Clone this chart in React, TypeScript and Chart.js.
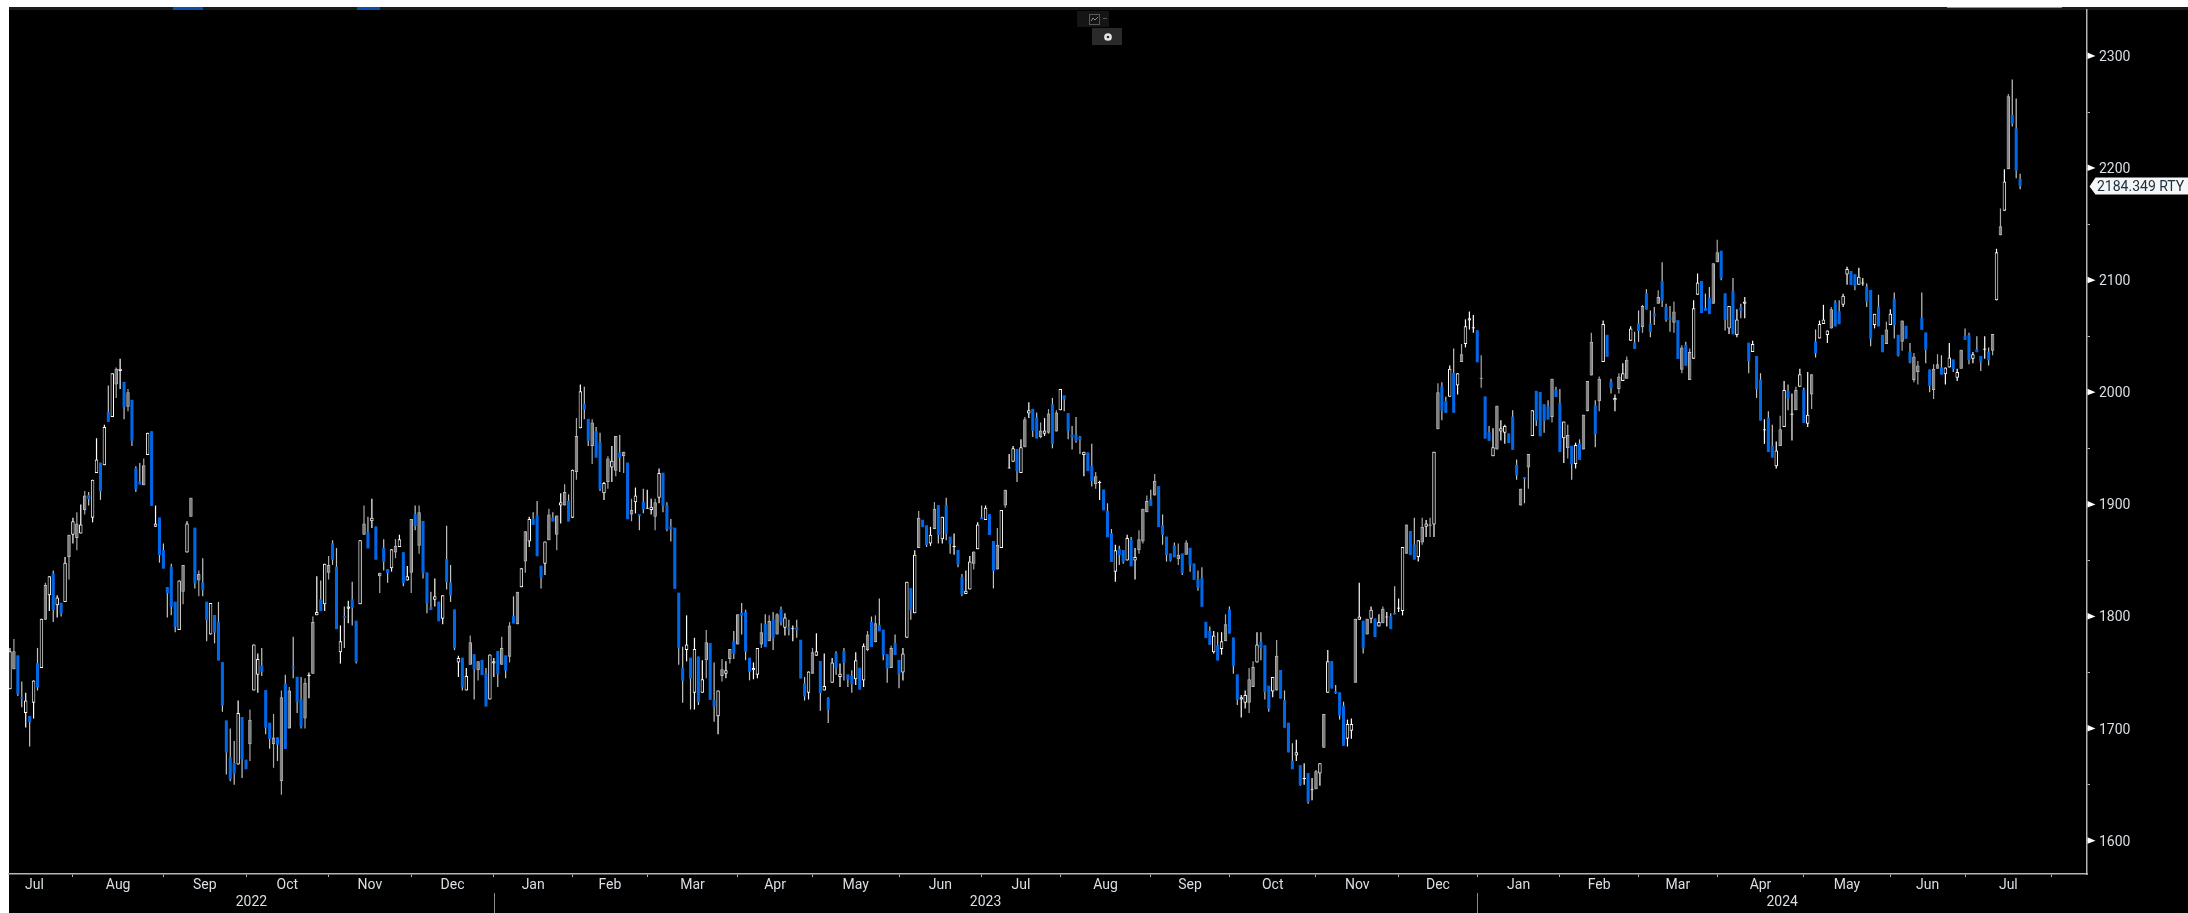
import React, { useEffect, useRef } from "react";
import { Chart, registerables } from "chart.js";

Chart.register(...registerables);

// Russell 2000 daily candles: [open, high, low, close]
const candles2022: number[][] = [
[1735,1772,1735,1769],[1753,1780,1753,1769],[1765,1765,1729,1731],[1728,1742,1719,1727],[1714,1732,1701,1725],[1711,1711,1684,1706],[1723,1743,1709,1743],[1758,1772,1734,1737],[1754,1798,1754,1798],[1797,1830,1797,1828],
[1819,1836,1805,1836],[1838,1841,1795,1806],[1810,1819,1799,1817],[1812,1812,1800,1803],[1813,1853,1813,1848],[1853,1873,1833,1873],[1873,1888,1865,1885],[1870,1893,1859,1883],[1874,1900,1874,1882],[1895,1912,1891,1908],
[1908,1911,1899,1905],[1888,1922,1884,1922],[1928,1959,1928,1940],[1937,1937,1904,1912],[1935,1971,1935,1969],[1982,2006,1974,1974],[1978,2017,1978,2017],[2007,2022,1995,2021],[2019,2030,2003,2021],[2009,2009,1976,1987],
[1987,2003,1983,2000],[1993,1993,1952,1957],[1932,1934,1911,1914],[1920,1937,1918,1918],[1917,1941,1917,1935],[1944,1964,1944,1964],[1965,1965,1899,1899],[1880,1899,1880,1883],[1888,1888,1848,1855],[1859,1865,1843,1843],
[1826,1826,1799,1821],[1844,1847,1801,1809],[1813,1813,1786,1791],[1788,1832,1788,1832],[1822,1846,1811,1846],[1857,1885,1857,1883],[1889,1906,1889,1906],[1879,1879,1825,1830],[1832,1841,1818,1838],[1830,1852,1818,1824],
[1813,1813,1778,1797],[1784,1812,1784,1812],[1801,1801,1776,1786],[1795,1813,1761,1761],[1759,1759,1715,1721],[1707,1707,1659,1679],[1674,1700,1653,1655],[1669,1689,1650,1660],[1668,1725,1668,1714],[1710,1710,1656,1673],
[1672,1672,1664,1664],[1686,1717,1671,1708],[1734,1775,1734,1775],[1748,1767,1732,1762],[1756,1772,1747,1751],[1734,1734,1695,1701],[1705,1705,1682,1691],[1686,1713,1665,1692],[1692,1692,1671,1686],[1653,1734,1641,1728],
[1740,1748,1682,1682],[1700,1737,1700,1734],[1755,1782,1745,1754],[1746,1746,1714,1724],[1726,1746,1700,1702],[1709,1745,1700,1741],[1747,1750,1727,1748],[1749,1800,1749,1795],[1801,1836,1801,1804],[1815,1832,1805,1805],
[1811,1847,1805,1847],[1839,1854,1833,1846],[1865,1868,1846,1851],[1844,1861,1789,1789],[1768,1792,1758,1778],[1800,1809,1772,1799],[1807,1814,1794,1809],[1815,1831,1792,1808],[1796,1796,1758,1760],[1811,1868,1811,1868],
[1873,1899,1873,1883],[1875,1889,1861,1861],[1885,1905,1879,1888],[1880,1880,1851,1851],[1836,1839,1821,1839],[1861,1869,1841,1849],[1842,1842,1830,1839],[1843,1860,1840,1860],[1857,1869,1852,1863],[1862,1873,1862,1869],
[1857,1857,1827,1830],[1832,1845,1832,1836],[1839,1887,1821,1887],[1891,1899,1877,1881],[1863,1899,1856,1893],[1885,1885,1834,1839],[1839,1839,1803,1812],[1808,1822,1806,1806],[1815,1834,1809,1818],[1813,1813,1796,1796],
[1798,1819,1793,1819],[1851,1881,1824,1831],[1830,1846,1813,1819],[1806,1806,1770,1772],[1759,1765,1746,1763],[1763,1763,1734,1737],[1734,1754,1734,1747],[1757,1783,1757,1777],[1766,1766,1726,1753],[1752,1760,1743,1760],
[1761,1761,1748,1748],[1749,1754,1720,1720],[1726,1766,1726,1766],
];
const candles2023: number[][] = [
[1758,1763,1746,1760],[1769,1769,1737,1749],[1757,1782,1757,1772],[1765,1765,1745,1752],[1764,1795,1759,1792],[1800,1818,1794,1794],[1793,1822,1793,1822],[1826,1843,1826,1843],[1849,1876,1839,1876],[1867,1889,1862,1887],
[1887,1893,1882,1882],[1890,1903,1854,1854],[1845,1845,1825,1835],[1847,1867,1837,1867],[1868,1896,1868,1891],[1888,1893,1885,1885],[1873,1890,1859,1890],[1899,1910,1883,1902],[1899,1918,1899,1911],[1903,1909,1885,1885],
[1888,1931,1888,1931],[1929,1977,1922,1961],[1968,2007,1968,2001],[1989,2005,1976,1985],[1976,1976,1952,1957],[1952,1976,1936,1973],[1965,1969,1942,1942],[1955,1964,1912,1914],[1910,1920,1904,1919],[1920,1943,1914,1941],
[1933,1952,1920,1939],[1930,1961,1925,1961],[1946,1962,1929,1942],[1943,1947,1928,1947],[1937,1937,1887,1887],[1891,1905,1885,1895],[1902,1915,1892,1908],[1891,1891,1877,1890],[1902,1914,1892,1896],[1896,1913,1896,1897],
[1895,1905,1891,1898],[1889,1905,1877,1902],[1906,1932,1901,1928],[1928,1928,1893,1899],[1899,1902,1876,1878],[1880,1887,1867,1878],[1879,1879,1825,1825],[1821,1821,1757,1772],[1754,1773,1723,1743],[1770,1801,1760,1775],
[1763,1763,1717,1745],[1732,1781,1717,1771],[1764,1764,1721,1724],[1732,1761,1732,1744],[1761,1788,1745,1777],[1776,1776,1726,1726],[1725,1759,1706,1720],[1711,1734,1695,1734],[1747,1762,1742,1753],[1749,1760,1745,1752],
[1762,1771,1758,1771],[1778,1787,1762,1767],[1775,1802,1775,1802],[1803,1812,1784,1801],[1804,1806,1761,1769],[1763,1763,1743,1751],[1752,1759,1744,1754],[1748,1772,1745,1772],[1775,1794,1772,1786],[1793,1802,1773,1773],
[1778,1801,1778,1796],[1797,1804,1770,1781],[1784,1803,1784,1802],[1806,1809,1792,1795],[1790,1803,1783,1799],[1790,1797,1783,1789],[1789,1792,1778,1790],[1790,1797,1781,1788],[1779,1779,1745,1745],[1740,1746,1725,1729],
[1732,1751,1726,1751],[1749,1772,1749,1768],[1765,1785,1765,1769],[1760,1760,1716,1732],[1734,1767,1734,1738],[1727,1728,1705,1717],[1741,1763,1741,1759],[1767,1769,1748,1754],[1746,1758,1737,1749],[1769,1772,1743,1759],
[1748,1748,1737,1744],[1747,1752,1732,1740],[1744,1768,1739,1761],[1754,1754,1735,1735],[1743,1776,1737,1774],[1770,1787,1769,1784],[1795,1800,1773,1773],[1777,1801,1777,1794],[1792,1816,1787,1787],[1788,1788,1761,1766],
[1766,1766,1741,1754],[1754,1774,1754,1772],[1776,1784,1766,1766],[1761,1761,1736,1749],[1750,1772,1743,1767],[1781,1831,1781,1831],[1825,1825,1797,1806],[1803,1859,1803,1855],[1861,1894,1861,1888],[1886,1886,1880,1880],
[1881,1881,1862,1864],[1865,1880,1863,1873],[1878,1902,1878,1896],[1899,1899,1865,1873],[1869,1889,1865,1889],[1899,1906,1868,1874],[1871,1871,1856,1865],[1862,1874,1855,1863],[1859,1859,1844,1847],[1835,1838,1818,1820],
[1820,1841,1820,1823],[1824,1854,1824,1849],[1847,1858,1842,1858],[1860,1884,1860,1882],[1888,1899,1887,1887],[1886,1899,1886,1897],[1891,1891,1873,1873],[1867,1867,1825,1841],[1842,1879,1842,1864],[1861,1895,1861,1895],
[1899,1913,1897,1913],[1932,1945,1932,1933],[1938,1952,1938,1950],[1949,1949,1920,1930],[1928,1958,1928,1951],[1951,1978,1951,1976],[1981,1991,1977,1984],[1985,1985,1960,1966],[1977,1982,1959,1959],[1960,1973,1959,1966],
[1963,1977,1961,1966],[1964,1985,1963,1981],[1989,1995,1950,1954],[1965,1984,1965,1982],[1984,2003,1984,2003],[1997,1997,1983,1994],[1981,1981,1958,1966],[1962,1970,1949,1960],[1962,1978,1955,1957],[1960,1961,1945,1958],
[1944,1947,1925,1947],[1946,1946,1930,1930],[1934,1954,1916,1921],[1918,1929,1914,1925],[1919,1921,1904,1920],[1913,1913,1895,1895],[1894,1901,1871,1871],[1874,1878,1849,1849],[1840,1864,1831,1859],[1860,1863,1846,1855],
[1859,1859,1847,1849],[1850,1873,1850,1870],[1868,1871,1845,1845],[1850,1861,1833,1853],[1859,1877,1856,1869],[1867,1896,1865,1896],[1893,1908,1893,1903],[1904,1913,1899,1899],[1908,1927,1908,1921],[1916,1916,1880,1880],
[1881,1891,1864,1873],[1871,1871,1849,1855],[1856,1856,1849,1850],[1863,1866,1853,1853],[1851,1865,1846,1855],[1856,1856,1837,1839],[1855,1868,1855,1866],[1861,1861,1840,1846],[1847,1847,1833,1833],[1833,1841,1823,1826],
[1834,1844,1809,1809],[1795,1795,1781,1781],[1787,1791,1775,1775],[1768,1787,1767,1783],[1774,1786,1761,1761],[1771,1786,1766,1778],[1778,1802,1778,1793],[1806,1809,1785,1785],[1781,1781,1749,1756],[1748,1748,1721,1726],
[1726,1730,1710,1728],[1723,1734,1718,1730],[1723,1754,1714,1744],[1737,1760,1737,1755],[1759,1786,1759,1775],[1777,1786,1761,1772],[1774,1774,1726,1733],[1738,1738,1715,1718],[1733,1746,1728,1746],[1734,1779,1734,1765],
[1752,1752,1727,1727],[1725,1734,1701,1701],[1705,1705,1679,1679],[1671,1687,1664,1664],[1676,1690,1671,1679],[1667,1667,1649,1650],[1655,1669,1650,1656],[1660,1660,1633,1635],[1645,1656,1636,1646],[1646,1663,1646,1662],
[1660,1669,1649,1669],[1683,1713,1683,1713],[1732,1770,1732,1760],[1760,1760,1736,1736],[1733,1739,1731,1732],[1732,1732,1708,1712],[1720,1724,1685,1685],[1691,1708,1684,1704],[1698,1709,1691,1704],[1741,1798,1741,1798],
[1797,1830,1797,1800],[1796,1796,1767,1772],[1784,1798,1784,1798],[1798,1809,1794,1806],[1798,1798,1782,1782],[1791,1802,1791,1795],[1794,1809,1794,1807],[1799,1804,1791,1800],[1800,1803,1789,1789],[1803,1827,1802,1802],
[1807,1816,1804,1808],[1805,1862,1801,1862],[1856,1882,1856,1882],[1876,1876,1855,1855],[1864,1888,1851,1851],[1853,1868,1849,1868],[1866,1888,1864,1880],[1880,1886,1871,1883],[1881,1888,1871,1882],[1882,1947,1871,1947],
];
const candles2024: number[][] = [
[1967,2008,1967,2000],[2005,2009,1975,1984],[1992,1996,1982,1982],[1996,2024,1996,2021],[2017,2039,1982,1982],[2006,2017,1998,2017],[2027,2043,2027,2034],[2043,2065,2040,2059],[2064,2072,2056,2066],[2057,2069,2053,2058],
[2055,2055,2027,2027],[2012,2033,2004,2013],[1996,1996,1959,1959],[1964,1970,1957,1957],[1943,1968,1943,1951],[1949,1988,1949,1988],[1965,1975,1957,1968],[1964,1971,1954,1970],[1963,1963,1955,1955],[1978,1984,1949,1949],
[1935,1940,1922,1926],[1899,1914,1899,1914],[1924,1924,1901,1923],[1933,1945,1914,1945],[1961,1984,1961,1984],[2001,2001,1970,1975],[2000,2000,1961,1961],[1989,1989,1964,1975],[1987,1993,1976,1976],[1978,2012,1973,2012],
[2002,2005,1996,1996],[1990,2003,1947,1947],[1959,1974,1937,1974],[1950,1971,1941,1962],[1952,1952,1922,1936],[1936,1955,1932,1953],[1954,1958,1940,1940],[1949,1980,1949,1980],[1983,2010,1983,2010],[2015,2053,2015,2045],
[1988,1993,1951,1963],[1992,2014,1983,2012],[2027,2064,2027,2061],[2051,2051,2032,2032],[2009,2012,1999,2004],[1993,1998,1983,1995],[2003,2017,1999,2014],[2010,2026,2010,2017],[2012,2032,2012,2029],[2046,2059,2046,2057],
[2044,2054,2039,2039],[2061,2073,2045,2055],[2058,2078,2053,2077],[2088,2092,2074,2074],[2061,2073,2049,2054],[2070,2076,2060,2068],[2079,2091,2079,2085],[2099,2116,2076,2082],[2076,2079,2063,2065],[2066,2077,2054,2065],
[2062,2081,2053,2072],[2064,2064,2030,2030],[2020,2042,2017,2040],[2042,2045,2024,2024],[2011,2039,2011,2036],[2030,2082,2030,2075],[2087,2106,2087,2098],[2099,2099,2071,2071],[2075,2088,2073,2073],[2084,2094,2070,2070],
[2079,2115,2079,2115],[2116,2136,2116,2125],[2126,2126,2100,2102],[2088,2088,2055,2065],[2057,2077,2052,2077],[2090,2102,2052,2052],[2051,2074,2049,2065],[2075,2079,2066,2073],[2079,2085,2066,2081],[2044,2044,2017,2028],
[2036,2046,2036,2043],[2032,2032,1995,2003],[2011,2017,1975,1975],[1966,1976,1954,1967],[1977,1983,1947,1947],[1952,1971,1942,1942],[1934,1956,1932,1948],[1952,1979,1952,1967],[1969,2010,1969,2002],[2001,2007,1984,1995],
[1980,1999,1957,1981],[1984,2005,1984,2002],[2005,2021,2005,2016],[2002,2004,1973,1973],[1972,2018,1969,1980],[1998,2016,1985,2016],[2045,2056,2031,2035],[2048,2064,2048,2061],[2061,2078,2061,2065],[2051,2055,2044,2055],
[2057,2076,2057,2074],[2080,2082,2059,2059],[2072,2082,2061,2061],[2078,2088,2076,2086],[2105,2112,2096,2110],[2108,2108,2096,2096],[2105,2105,2091,2095],[2096,2111,2096,2103],[2097,2102,2095,2098],[2094,2097,2076,2081],
[2091,2091,2041,2048],[2060,2070,2057,2070],[2076,2087,2059,2059],[2051,2051,2036,2036],[2043,2063,2043,2056],[2060,2074,2060,2070],[2083,2089,2048,2060],[2051,2051,2032,2033],[2045,2064,2037,2064],[2059,2059,2048,2048],
[2036,2044,2026,2027],[2011,2035,2009,2032],[2018,2028,2007,2024],[2066,2089,2056,2056],[2053,2053,2026,2038],[2020,2020,2000,2006],[2002,2025,1994,2021],[2021,2034,2021,2025],[2022,2033,2016,2016],[2016,2022,2007,2022],
[2022,2044,2022,2031],[2029,2029,2018,2021],[2013,2021,2010,2018],[2021,2038,2021,2038],[2050,2057,2047,2047],[2051,2053,2025,2029],[2030,2036,2026,2034],[2038,2050,2036,2036],[2032,2032,2019,2027],[2038,2050,2030,2039],
[2036,2040,2024,2029],[2037,2052,2033,2052],[2082,2128,2082,2125],[2140,2164,2140,2148],[2162,2199,2162,2188],[2199,2266,2199,2264],[2247,2279,2237,2240],[2235,2262,2191,2198],[2190,2195,2181,2184.35],
];

// Candles whose body reads as mid grey rather than hollow white in the picture
const greyCandles = [1,9,15,17,19,27,30,34,44,46,48,61,67,69,71,75,77,81,90,94,98,102,104,117,119,125,127,129,131,137,139,141,144,148,152,154,156,158,164,177,181,183,185,191,193,195,204,218,220,224,231,235,245,251,253,258,262,264,266,276,287,288,289,291,297,299,309,315,316,322,332,334,342,345,349,355,359,361,363,369,374,378,384,386,392,396,400,401,402,404,409,411,415,419,423,425,427,433,434,450,454,458,463,477,481,484,485,489,490,496,504,506,508];

const monthNames = ["Jul","Aug","Sep","Oct","Nov","Dec","Jan","Feb","Mar","Apr","May","Jun","Jul","Aug","Sep","Oct","Nov","Dec","Jan","Feb","Mar","Apr","May","Jun","Jul"];
// Candle index at which each month begins (first month starts before the visible range)
const monthStarts = [-3.6,16,39,60,81,102,123,143,162,185,204,226,247,267,290,310,332,353,373,394,414,434,456,478,497,519];
const yearNames = ["2022","2023","2024"];
const yearStarts = [123,373];
const yTicks = [1600,1700,1800,1900,2000,2100,2200,2300];
const lastPrice = 2184.349;
const lastPriceLabel = "2184.349 RTY";

const candles = [...candles2022, ...candles2023, ...candles2024];
const X_MIN = -0.25;
const X_MAX = 528;
const Y_MIN = 1570.3;
const Y_MAX = 2341;
const AXIS_COLOR = "#b4b4b4";
const TEXT_COLOR = "#d9dfe3";
const BLUE = "#0067e6";
const FONT = { family: "Roboto", size: 14 };

const greySet = new Set(greyCandles);
const isDown = (c: number[]) => c[3] < c[0];

const noPadding = (s: any) => {
  s.paddingTop = 0;
  s.paddingBottom = 0;
  s.paddingLeft = 0;
  s.paddingRight = 0;
};

const chromePlugin = {
  id: "chrome",
  beforeDraw(chart: any) {
    const { ctx, width, height } = chart;
    ctx.save();
    ctx.fillStyle = "#ffffff";
    ctx.fillRect(0, 0, width, height);
    ctx.fillStyle = "#000000";
    ctx.fillRect(9, 7, width - 9, height - 7);
    ctx.fillStyle = "#1b1b1b";
    ctx.fillRect(9, 7, width - 9, 3);
    ctx.fillStyle = "#0a4fb0";
    ctx.fillRect(173, 7, 30, 3);
    ctx.fillRect(357, 7, 23, 3);
    ctx.fillStyle = "#d8861f";
    ctx.fillRect(1947, 7, 115, 1);
    ctx.restore();
  },
  afterDraw(chart: any) {
    const { ctx, scales } = chart;
    const y = scales.y;
    const xm = scales.x;
    ctx.save();
    // flags on the round price levels
    ctx.fillStyle = "#ffffff";
    const ax = xm.right + 0.5;
    yTicks.forEach((v) => {
      const py = y.getPixelForValue(v);
      ctx.beginPath();
      ctx.moveTo(ax, py - 3.5);
      ctx.lineTo(ax + 8, py);
      ctx.lineTo(ax, py + 3);
      ctx.closePath();
      ctx.fill();
    });
    // year dividers
    ctx.strokeStyle = "#8a8a8a";
    ctx.lineWidth = 1;
    yearStarts.forEach((v) => {
      const px = Math.round(xm.getPixelForValue(v)) + 0.5;
      ctx.beginPath();
      ctx.moveTo(px, 893);
      ctx.lineTo(px, 913);
      ctx.stroke();
    });
    // last price tag
    const py = y.getPixelForValue(lastPrice) + 1;
    ctx.fillStyle = "#f4f6f8";
    ctx.beginPath();
    ctx.moveTo(ax + 2, py);
    ctx.lineTo(ax + 8, py - 9);
    ctx.lineTo(chart.width, py - 9);
    ctx.lineTo(chart.width, py + 8);
    ctx.lineTo(ax + 8, py + 8);
    ctx.closePath();
    ctx.fill();
    ctx.fillStyle = "#20303c";
    ctx.font = "14px Roboto";
    ctx.textAlign = "left";
    ctx.textBaseline = "middle";
    ctx.fillText(lastPriceLabel, ax + 9.5, py + 1);
    // small toolbar widgets
    ctx.fillStyle = "#151515";
    ctx.fillRect(1077, 11, 32, 16);
    ctx.strokeStyle = "#5a5a5a";
    ctx.strokeRect(1089.5, 14.5, 10, 10);
    ctx.strokeStyle = "#8a8a8a";
    ctx.beginPath();
    ctx.moveTo(1091, 21);
    ctx.lineTo(1093, 18);
    ctx.lineTo(1095, 20);
    ctx.lineTo(1098, 17);
    ctx.stroke();
    ctx.fillStyle = "#5a5a5a";
    ctx.fillRect(1103, 18, 4, 1);
    ctx.fillStyle = "#2a2a2a";
    ctx.fillRect(1092, 28, 30, 17);
    ctx.strokeStyle = "#e6e6e6";
    ctx.lineWidth = 2.5;
    ctx.beginPath();
    ctx.arc(1108, 37, 2.6, 0, Math.PI * 2);
    ctx.stroke();
    ctx.restore();
  },
};

export default function App() {
  const ref = useRef<HTMLCanvasElement>(null);
  useEffect(() => {
    if (!ref.current) return;
    const monthMids = monthNames.map((_, i) => (monthStarts[i] + monthStarts[i + 1]) / 2);
    const yearEdges = [X_MIN, ...yearStarts, X_MAX];
    const yearMids = yearNames.map((_, i) => (yearEdges[i] + yearEdges[i + 1]) / 2);
    const all = candles.map((c, i) => ({ c, i }));
    const ups = all.filter((d) => !isDown(d.c));
    const downs = all.filter((d) => isDown(d.c));
    const body = (d: { c: number[]; i: number }) => ({
      x: d.i,
      y: [Math.min(d.c[0], d.c[3]), Math.max(d.c[0], d.c[3])],
    });
    const lockedX = (extra: any) => ({
      type: "linear",
      axis: "x",
      position: "bottom",
      min: X_MIN,
      max: X_MAX,
      offset: false,
      border: { display: false },
      grid: { display: false, drawTicks: false, offset: false },
      ...extra,
    });
    const chart = new Chart(ref.current, {
      type: "bar",
      plugins: [chromePlugin],
      data: {
        datasets: [
          {
            label: "wick",
            order: 3,
            grouped: false,
            barThickness: 1.2,
            inflateAmount: 0,
            data: all.map((d) => ({ x: d.i, y: [d.c[2], d.c[1]] })),
            backgroundColor: all.map((d) =>
              isDown(d.c) ? "#c4c4c4" : greySet.has(d.i) ? "#a8a8a8" : "#ffffff"
            ),
          },
          {
            label: "up",
            order: 2,
            grouped: false,
            barThickness: 3.5,
            borderSkipped: false,
            inflateAmount: 0,
            data: ups.map(body),
            backgroundColor: ups.map((d) => (greySet.has(d.i) ? "#858585" : "#000000")),
            borderColor: ups.map((d) => (greySet.has(d.i) ? "#bcbcbc" : "#ffffff")),
            borderWidth: 1,
          },
          {
            label: "down",
            order: 1,
            grouped: false,
            barThickness: 2.4,
            data: downs.map(body),
            backgroundColor: BLUE,
          },
        ] as any,
      },
      options: {
        responsive: false,
        animation: false,
        events: [],
        layout: { padding: { left: 9, top: 10, right: 0, bottom: 0 } },
        plugins: { legend: { display: false }, tooltip: { enabled: false }, title: { display: false } },
        scales: {
          x: lockedX({
            weight: 0,
            border: { display: true, color: AXIS_COLOR, width: 1.5 },
            grid: { display: true, drawOnChartArea: false, drawTicks: true, tickLength: 3, color: AXIS_COLOR, offset: false },
            ticks: { display: false },
            afterBuildTicks: (s: any) => {
              s.ticks = monthStarts.slice(1).map((value) => ({ value }));
            },
            afterFit: (s: any) => {
              s.height = 3;
              noPadding(s);
            },
          }),
          xMonths: lockedX({
            weight: 1,
            ticks: {
              autoSkip: false,
              maxRotation: 0,
              minRotation: 0,
              padding: 0,
              color: TEXT_COLOR,
              font: FONT,
              callback: (_: any, i: number) => monthNames[i],
            },
            afterBuildTicks: (s: any) => {
              s.ticks = monthMids.map((value) => ({ value }));
            },
            afterFit: (s: any) => {
              s.height = 17;
              noPadding(s);
            },
          }),
          xYears: lockedX({
            weight: 2,
            ticks: {
              autoSkip: false,
              maxRotation: 0,
              minRotation: 0,
              padding: 0,
              color: TEXT_COLOR,
              font: FONT,
              callback: (_: any, i: number) => yearNames[i],
            },
            afterBuildTicks: (s: any) => {
              s.ticks = yearMids.map((value) => ({ value }));
            },
            afterFit: (s: any) => {
              s.height = 19;
              noPadding(s);
            },
          }),
          y: {
            type: "linear",
            position: "right",
            min: Y_MIN,
            max: Y_MAX,
            border: { display: true, color: AXIS_COLOR, width: 1.5 },
            grid: { display: true, drawOnChartArea: false, drawTicks: true, tickLength: 3, color: AXIS_COLOR },
            ticks: {
              stepSize: 50,
              includeBounds: false,
              autoSkip: false,
              padding: 9,
              labelOffset: 1.5,
              color: TEXT_COLOR,
              font: FONT,
              callback: (v: any) => (Number(v) % 100 === 0 ? String(v) : ""),
            },
            afterFit: (s: any) => {
              s.width = 101;
              noPadding(s);
            },
          },
        },
      } as any,
    });
    return () => chart.destroy();
  }, []);
  return (
    <div style={{ position: "fixed", left: 0, top: 0, width: 2188, height: 913, overflow: "hidden", background: "#fff" }}>
      <canvas ref={ref} width={2188} height={913} style={{ display: "block" }} />
    </div>
  );
}
